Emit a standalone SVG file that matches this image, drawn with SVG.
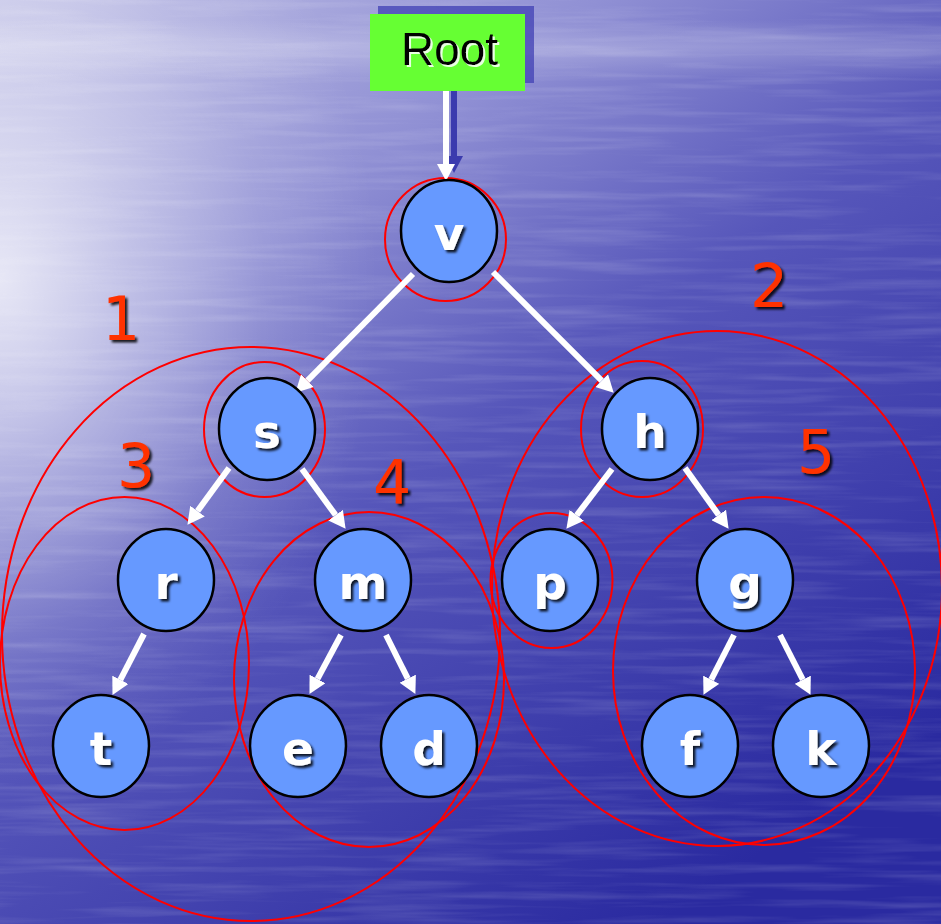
<svg xmlns="http://www.w3.org/2000/svg" width="941" height="924" viewBox="0 0 941 924">
  <defs>
    <linearGradient id="sea" x1="0" y1="0" x2="0.7" y2="1">
      <stop offset="0" stop-color="#c0c0e6"/>
      <stop offset="0.3" stop-color="#9090d4"/>
      <stop offset="0.55" stop-color="#5656ba"/>
      <stop offset="1" stop-color="#2a2aa0"/>
    </linearGradient>
    <radialGradient id="glow" cx="0" cy="280" r="420" gradientUnits="userSpaceOnUse" gradientTransform="translate(0 280) scale(0.9 1.2) translate(0 -280)">
      <stop offset="0" stop-color="#ffffff" stop-opacity="0.75"/>
      <stop offset="0.35" stop-color="#ffffff" stop-opacity="0.4"/>
      <stop offset="0.7" stop-color="#ffffff" stop-opacity="0.12"/>
      <stop offset="1" stop-color="#ffffff" stop-opacity="0"/>
    </radialGradient>
    <linearGradient id="topband" x1="0" y1="0" x2="0" y2="1">
      <stop offset="0" stop-color="#ffffff" stop-opacity="0.0"/>
      <stop offset="0.45" stop-color="#ffffff" stop-opacity="0.22"/>
      <stop offset="1" stop-color="#ffffff" stop-opacity="0"/>
    </linearGradient>
    <filter id="ripples" x="0" y="0" width="100%" height="100%">
      <feTurbulence type="fractalNoise" baseFrequency="0.006 0.12" numOctaves="3" seed="7"/>
      <feColorMatrix type="matrix" values="0 0 0 0 1  0 0 0 0 1  0 0 0 0 1  0 0 0 1.4 -0.62"/>
    </filter>
    <filter id="darkShadow" x="-30%" y="-30%" width="160%" height="160%">
      <feDropShadow dx="2.5" dy="2.5" stdDeviation="0.9" flood-color="#000000" flood-opacity="0.85"/>
    </filter>
    <filter id="lightShadow" x="-20%" y="-30%" width="140%" height="160%">
      <feDropShadow dx="2" dy="2" stdDeviation="0.6" flood-color="#ffffff" flood-opacity="0.85"/>
    </filter>
    <marker id="head" viewBox="0 -9 17 18" refX="0" refY="0" markerWidth="17" markerHeight="18" markerUnits="userSpaceOnUse" orient="auto">
      <path d="M0,-9 L17,0 L0,9 Z" fill="#ffffff"/>
    </marker>
    <marker id="headShadow" viewBox="0 -9 17 18" refX="0" refY="0" markerWidth="17" markerHeight="18" markerUnits="userSpaceOnUse" orient="auto">
      <path d="M0,-9 L17,0 L0,9 Z" fill="#3b3bae"/>
    </marker>
    <style>
      .node ellipse { fill: #6699ff; stroke: #000000; stroke-width: 2.5; }
      .lbl { font-family: "DejaVu Sans", Verdana, sans-serif; font-weight: bold; font-size: 47px; text-anchor: middle; fill: #ffffff; filter: url(#darkShadow); }
      .ring { fill: none; stroke: #ff0000; stroke-width: 2; }
      .num { font-family: "DejaVu Sans", Verdana, sans-serif; font-size: 60px; text-anchor: middle; fill: #ff3300; filter: url(#darkShadow); }
      .edge { stroke: #ffffff; stroke-width: 6; fill: none; marker-end: url(#head); }
    </style>
  </defs>

  <!-- water background -->
  <rect width="941" height="924" fill="url(#sea)"/>
  <rect width="941" height="924" fill="url(#glow)"/>
  <rect x="0" y="20" width="941" height="60" fill="url(#topband)"/>
  <rect width="941" height="924" filter="url(#ripples)" opacity="0.22"/>

  <!-- root box -->
  <g id="root">
    <rect x="378" y="6" width="156" height="77" fill="#4040b4" opacity="0.75"/>
    <line x1="454" y1="83" x2="454" y2="156" stroke="#3b3bae" stroke-width="6" marker-end="url(#headShadow)"/>
    <rect x="370" y="14" width="155" height="77" fill="#66ff33"/>
    <text x="449.5" y="65" font-family="Liberation Sans, Arial, sans-serif" font-size="46" text-anchor="middle" fill="#000000" filter="url(#lightShadow)">Root</text>
  </g>

  <!-- grouping rings -->
  <g id="rings">
    <ellipse class="ring" cx="251" cy="634" rx="249" ry="287"/>
    <ellipse class="ring" cx="717" cy="588.5" rx="225" ry="257.5"/>
    <ellipse class="ring" cx="124.5" cy="663.5" rx="124.5" ry="166.5"/>
    <ellipse class="ring" cx="369" cy="679.5" rx="135" ry="167.5"/>
    <ellipse class="ring" cx="764" cy="671" rx="151" ry="174"/>
    <ellipse class="ring" cx="445.5" cy="239.5" rx="60.5" ry="61.5"/>
    <ellipse class="ring" cx="264.5" cy="429.5" rx="60.5" ry="67.5"/>
    <ellipse class="ring" cx="642" cy="429" rx="61" ry="68"/>
    <ellipse class="ring" cx="551.5" cy="580.5" rx="61" ry="67.5"/>
  </g>

  <!-- ring numbers -->
  <g id="numbers">
    <text class="num" x="121" y="340">1</text>
    <text class="num" x="769" y="307">2</text>
    <text class="num" x="136" y="487">3</text>
    <text class="num" x="392" y="503">4</text>
    <text class="num" x="816" y="473">5</text>
  </g>

  <!-- connectors -->
  <g id="edges">
    <line class="edge" x1="446" y1="91" x2="446" y2="164"/>
    <line class="edge" x1="413" y1="274" x2="307.4" y2="380.7"/>
    <line class="edge" x1="493" y1="272" x2="601.7" y2="380.7"/>
    <line class="edge" x1="229" y1="468" x2="197.5" y2="511.1"/>
    <line class="edge" x1="302" y1="469" x2="335.6" y2="515.1"/>
    <line class="edge" x1="612" y1="469" x2="576.7" y2="515.3"/>
    <line class="edge" x1="685" y1="468" x2="718.7" y2="515"/>
    <line class="edge" x1="144" y1="634" x2="120.3" y2="679.8"/>
    <line class="edge" x1="341" y1="635" x2="317.5" y2="678.9"/>
    <line class="edge" x1="386" y1="635" x2="407.8" y2="678.7"/>
    <line class="edge" x1="734" y1="635" x2="711.2" y2="679.7"/>
    <line class="edge" x1="780" y1="635" x2="802.8" y2="679.7"/>
  </g>

  <!-- tree nodes -->
  <g id="node-v" class="node"><ellipse cx="449" cy="231" rx="48" ry="51"/><text class="lbl" x="449" y="250">v</text></g>
  <g id="node-s" class="node"><ellipse cx="267" cy="429" rx="48" ry="51"/><text class="lbl" x="267" y="448">s</text></g>
  <g id="node-h" class="node"><ellipse cx="650" cy="429" rx="48" ry="51"/><text class="lbl" x="650" y="448">h</text></g>
  <g id="node-r" class="node"><ellipse cx="166" cy="580" rx="48" ry="51"/><text class="lbl" x="166" y="599">r</text></g>
  <g id="node-m" class="node"><ellipse cx="363" cy="580" rx="48" ry="51"/><text class="lbl" x="363" y="599">m</text></g>
  <g id="node-p" class="node"><ellipse cx="550" cy="580" rx="48" ry="51"/><text class="lbl" x="550" y="599">p</text></g>
  <g id="node-g" class="node"><ellipse cx="745" cy="580" rx="48" ry="51"/><text class="lbl" x="745" y="599">g</text></g>
  <g id="node-t" class="node"><ellipse cx="101" cy="746" rx="48" ry="51"/><text class="lbl" x="101" y="765">t</text></g>
  <g id="node-e" class="node"><ellipse cx="298" cy="746" rx="48" ry="51"/><text class="lbl" x="298" y="765">e</text></g>
  <g id="node-d" class="node"><ellipse cx="429" cy="746" rx="48" ry="51"/><text class="lbl" x="429" y="765">d</text></g>
  <g id="node-f" class="node"><ellipse cx="690" cy="746" rx="48" ry="51"/><text class="lbl" x="690" y="765">f</text></g>
  <g id="node-k" class="node"><ellipse cx="821" cy="746" rx="48" ry="51"/><text class="lbl" x="821" y="765">k</text></g>
</svg>
